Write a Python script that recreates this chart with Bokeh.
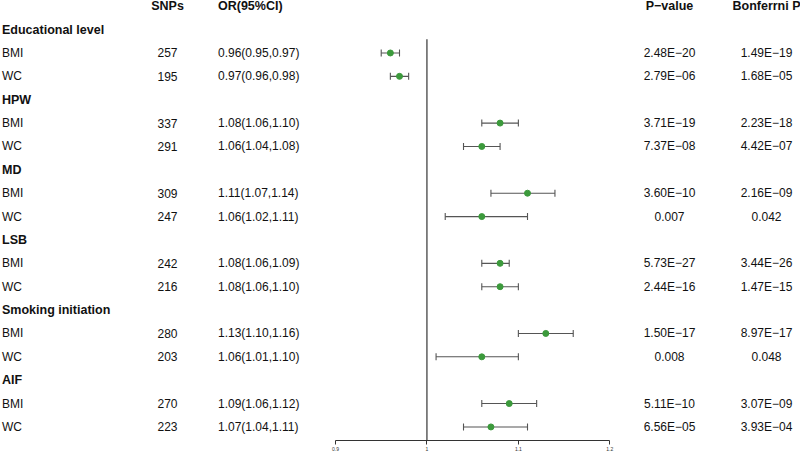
from bokeh.plotting import figure
from bokeh.models import Range1d, LinearAxis, FixedTicker, ColumnDataSource, Whisker
from bokeh.core.properties import value
from bokeh.embed import file_html
from bokeh.resources import INLINE

# ---------------- data ----------------
groups = ["Educational level", "HPW", "MD", "LSB", "Smoking initiation", "AIF"]
exposures = ["BMI", "WC"]
snps = [257, 195, 337, 291, 309, 247, 242, 216, 280, 203, 270, 223]
or_est = [0.96, 0.97, 1.08, 1.06, 1.11, 1.06, 1.08, 1.08, 1.13, 1.06, 1.09, 1.07]
or_lo = [0.95, 0.96, 1.06, 1.04, 1.07, 1.02, 1.06, 1.06, 1.10, 1.01, 1.06, 1.04]
or_hi = [0.97, 0.98, 1.10, 1.08, 1.14, 1.11, 1.09, 1.10, 1.16, 1.10, 1.12, 1.11]
p_value = ["2.48E\u221220", "2.79E\u221206", "3.71E\u221219", "7.37E\u221208", "3.60E\u221210", "0.007",
           "5.73E\u221227", "2.44E\u221216", "1.50E\u221217", "0.008", "5.11E\u221210", "6.56E\u221205"]
bonf_p = ["1.49E\u221219", "1.68E\u221205", "2.23E\u221218", "4.42E\u221207", "2.16E\u221209", "0.042",
          "3.44E\u221226", "1.47E\u221215", "8.97E\u221217", "0.048", "3.07E\u221209", "3.93E\u221204"]
headers = ["SNPs", "OR(95%CI)", "P\u2212value", "Bonferrni P"]
ticks = [0.9, 1.0, 1.1, 1.2]
tick_labels = ["0.9", "1", "1.1", "1.2"]
ref_value = 1.0

# ---------------- layout ----------------
W, H = 800, 453
FONT = value("Liberation Sans")
# forest x-range chosen so that 0.9 and 1.2 sit at the desired pixel columns
px0, px1 = 335.0, 609.3
per_px = (ticks[-1] - ticks[0]) / (px1 - px0)
x_start = ticks[0] - px0 * per_px
x_end = x_start + W * per_px

p = figure(width=W, height=H, output_backend="svg", toolbar_location=None,
           x_range=Range1d(x_start, x_end), y_range=Range1d(18.58, -0.245),
           x_axis_location=None, y_axis_location=None,
           min_border_left=0, min_border_right=0, min_border_top=0, min_border_bottom=0)
p.extra_x_ranges = {"px": Range1d(0, W)}
p.xgrid.visible = False
p.ygrid.visible = False
p.outline_line_color = None
p.background_fill_color = None
p.border_fill_color = "white"

# row positions
grp_rows, row_y, row_lab = [], [], []
r = 1
for g in groups:
    grp_rows.append(r)
    for e in exposures:
        row_y.append(r + 1 + exposures.index(e))
        row_lab.append(e)
    r += 3

col_lab, col_snp, col_or, col_p, col_b = 1.5, 167, 217.5, 669, 766

# headers
p.text(x=[col_snp, col_p, col_b], y=[0] * 3, text=[headers[0], headers[2], headers[3]],
       x_range_name="px", text_align="center", text_baseline="middle", text_font=FONT,
       text_font_size="12.5px", text_font_style="bold", text_color="#111111")
p.text(x=[col_or], y=[0], text=[headers[1]], x_range_name="px", text_align="left",
       text_baseline="middle", text_font=FONT,
       text_font_size="12.5px", text_font_style="bold", text_color="#111111")
# group titles
p.text(x=[col_lab] * len(groups), y=grp_rows, text=groups, x_range_name="px",
       text_align="left", text_baseline="middle", text_font=FONT,
       text_font_size="12.5px", text_font_style="bold", text_color="#111111")

or_txt = ["%.2f(%.2f,%.2f)" % (a, b, c) for a, b, c in zip(or_est, or_lo, or_hi)]
n = len(row_y)
src = ColumnDataSource(dict(y=row_y, lab=row_lab, snp=[str(s) for s in snps], ortxt=or_txt,
                            pv=p_value, bp=bonf_p, est=or_est, lo=or_lo, hi=or_hi,
                            xl=[col_lab] * n, xs=[col_snp] * n, xo=[col_or] * n,
                            xp=[col_p] * n, xb=[col_b] * n))
for xcol, tcol, align in [("xl", "lab", "left"), ("xs", "snp", "center"), ("xo", "ortxt", "left"),
                          ("xp", "pv", "center"), ("xb", "bp", "center")]:
    p.text(x=xcol, y="y", text=tcol, source=src, x_range_name="px", text_align=align,
           text_baseline="middle", text_font=FONT, text_font_size="12px", text_color="#111111")

# reference line
p.segment(x0=[ref_value], x1=[ref_value], y0=[1.41], y1=[18.58], line_color="#333333", line_width=1.2)

# CIs
wh = Whisker(base="y", lower="lo", upper="hi", source=src, dimension="width",
             line_color="#555555", line_width=1.1)
for head in (wh.upper_head, wh.lower_head):
    head.size = 7
    head.line_color = "#555555"
    head.line_width = 1.1
p.add_layout(wh)
p.scatter(x="est", y="y", source=src, marker="circle", size=6, fill_color="#3C9A3C",
          line_color="#3C9A3C")

ax = LinearAxis(ticker=FixedTicker(ticks=ticks), bounds=(ticks[0], ticks[-1]),
                major_label_overrides=dict(zip(ticks, tick_labels)),
                major_label_text_font_size="5px", major_label_text_font="Liberation Sans",
                major_label_standoff=2, major_tick_out=4, major_tick_in=0,
                minor_tick_out=0, minor_tick_in=0, axis_line_color="#333333",
                major_tick_line_color="#333333", major_label_text_color="#333333")
p.add_layout(ax, "below")

open("out.html", "w").write(file_html(p, INLINE))
